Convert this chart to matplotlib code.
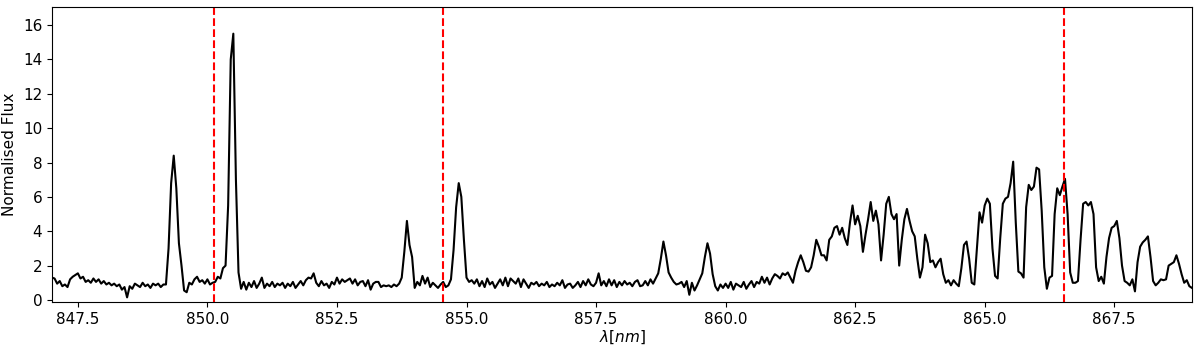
import numpy as np
import matplotlib
matplotlib.use("Agg")
import matplotlib.pyplot as plt

# wavelength grid of the spectrum (nm), 0.05 nm sampling
wl_start = 847.0
wl_step = 0.05

# normalised flux, one row per 0.5 nm
flux = [
    1.30, 1.25, 0.95, 1.10, 0.80, 0.90, 0.75, 1.20, 1.35, 1.45,   # 847.0
    1.55, 1.25, 1.35, 1.05, 1.15, 1.00, 1.25, 1.05, 1.20, 0.95,   # 847.5
    1.10, 0.90, 1.00, 0.85, 0.95, 0.80, 0.90, 0.60, 0.75, 0.15,   # 848.0
    0.80, 0.65, 0.95, 0.85, 0.75, 1.00, 0.80, 0.90, 0.70, 0.95,   # 848.5
    0.85, 0.95, 0.75, 0.90, 0.90, 3.00, 6.80, 8.40, 6.50, 3.30,   # 849.0
    2.00, 0.55, 0.45, 1.00, 0.90, 1.20, 1.35, 1.05, 1.15, 0.95,   # 849.5
    1.20, 0.90, 1.00, 1.05, 1.35, 1.25, 1.85, 2.00, 5.50, 14.0,   # 850.0
    15.5, 7.00, 1.60, 0.65, 1.05, 0.60, 1.00, 0.75, 1.10, 0.70,   # 850.5
    0.95, 1.30, 0.70, 0.95, 0.80, 1.05, 0.75, 0.95, 0.85, 1.00,   # 851.0
    0.70, 0.95, 0.80, 1.05, 0.70, 0.90, 1.10, 0.85, 1.15, 1.30,   # 851.5
    1.25, 1.55, 1.00, 0.80, 1.10, 0.85, 0.95, 0.70, 1.05, 0.90,   # 852.0
    1.30, 0.95, 1.20, 1.05, 1.15, 1.25, 0.95, 1.20, 0.85, 1.05,   # 852.5
    1.10, 0.80, 1.15, 0.60, 0.95, 1.05, 1.05, 0.75, 0.85, 0.80,   # 853.0
    0.85, 0.75, 0.90, 0.80, 0.95, 1.30, 2.80, 4.60, 3.20, 2.50,   # 853.5
    0.70, 1.05, 0.85, 1.40, 0.95, 1.30, 0.75, 1.00, 0.85, 0.70,   # 854.0
    0.90, 1.05, 0.75, 0.85, 1.20, 2.90, 5.40, 6.80, 6.00, 3.50,   # 854.5
    1.30, 1.05, 1.15, 0.95, 1.20, 0.80, 1.10, 0.75, 1.25, 0.90,   # 855.0
    1.05, 0.70, 0.95, 1.20, 0.85, 1.30, 0.80, 1.25, 1.10, 0.95,   # 855.5
    1.25, 0.75, 1.20, 0.95, 0.70, 1.00, 0.90, 1.05, 0.80, 0.95,   # 856.0
    0.85, 1.05, 0.75, 0.90, 0.80, 1.00, 0.85, 1.15, 0.70, 0.90,   # 856.5
    0.95, 0.70, 0.85, 1.05, 0.75, 1.10, 0.85, 1.20, 0.90, 0.80,   # 857.0
    1.00, 1.55, 0.85, 1.10, 0.80, 1.20, 0.85, 1.15, 0.75, 1.05,   # 857.5
    0.85, 1.10, 0.90, 1.00, 0.80, 1.05, 1.15, 0.80, 0.85, 1.10,   # 858.0
    0.85, 1.20, 0.95, 1.25, 1.55, 2.40, 3.40, 2.60, 1.60, 1.30,   # 858.5
    1.05, 0.90, 0.95, 1.05, 0.75, 1.10, 0.30, 1.00, 0.55, 0.85,   # 859.0
    1.20, 1.55, 2.50, 3.30, 2.70, 1.50, 0.80, 0.55, 0.90, 0.70,   # 859.5
    0.95, 0.70, 1.05, 0.60, 0.95, 0.85, 0.75, 1.05, 0.65, 0.90,   # 860.0
    1.10, 0.75, 1.05, 0.95, 1.35, 1.00, 1.30, 0.90, 1.25, 1.50,   # 860.5
    1.40, 1.25, 1.55, 1.45, 1.60, 1.30, 1.00, 1.70, 2.20, 2.60,   # 861.0
    2.20, 1.70, 1.65, 1.90, 2.60, 3.50, 3.10, 2.60, 2.60, 2.30,   # 861.5
    3.50, 3.70, 4.20, 4.30, 3.80, 4.20, 3.60, 3.20, 4.50, 5.50,   # 862.0
    4.40, 4.90, 4.30, 2.80, 3.80, 4.70, 5.70, 4.60, 5.20, 4.40,   # 862.5
    2.30, 3.80, 5.60, 6.00, 5.00, 4.70, 5.00, 2.00, 3.50, 4.70,   # 863.0
    5.30, 4.60, 4.00, 3.70, 2.40, 1.30, 1.90, 3.80, 3.30, 2.20,   # 863.5
    2.30, 1.90, 2.20, 2.40, 1.50, 1.00, 1.15, 0.85, 1.15, 0.95,   # 864.0
    0.80, 1.85, 3.20, 3.40, 2.40, 1.00, 0.90, 3.00, 5.10, 4.50,   # 864.5
    5.50, 5.90, 5.60, 3.00, 1.40, 1.25, 3.60, 5.60, 5.90, 6.00,   # 865.0
    6.80, 8.05, 4.50, 1.65, 1.55, 1.30, 5.40, 6.70, 6.40, 6.60,   # 865.5
    7.70, 7.60, 5.20, 1.90, 0.65, 1.30, 1.40, 5.00, 6.50, 6.10,   # 866.0
    6.60, 7.05, 5.00, 1.60, 1.00, 1.00, 1.10, 3.50, 5.60, 5.70,   # 866.5
    5.50, 5.70, 5.00, 1.90, 1.10, 1.35, 0.95, 2.50, 3.60, 4.20,   # 867.0
    4.30, 4.60, 3.60, 2.00, 1.10, 1.00, 0.85, 1.20, 0.50, 2.20,   # 867.5
    3.10, 3.35, 3.50, 3.70, 2.50, 1.10, 0.85, 1.00, 1.20, 1.15,   # 868.0
    1.20, 2.00, 2.10, 2.20, 2.60, 2.10, 1.50, 1.00, 1.15, 0.80,   # 868.5
    0.70,                                                         # 869.0
]

# Ca II triplet positions marked with dashed lines (nm)
line_positions = [850.13, 854.54, 866.53]

x_ticks = [847.5, 850.0, 852.5, 855.0, 857.5, 860.0, 862.5, 865.0, 867.5]
y_ticks = [0, 2, 4, 6, 8, 10, 12, 14, 16]

wl = wl_start + wl_step * np.arange(len(flux))

fig = plt.figure(figsize=(12, 3.45), dpi=100)
ax = fig.add_axes([0.0433, 0.1246, 0.95, 0.855])
ax.plot(wl, flux, color="black", lw=1.5)
for p in line_positions:
    ax.axvline(p, color="red", ls="--", lw=1.5)

ax.set_xlim(847.0, 869.0)
ax.set_ylim(-0.12, 17.05)
ax.set_xticks(x_ticks)
ax.set_xticklabels([f"{t:.1f}" for t in x_ticks])
ax.set_yticks(y_ticks)
ax.tick_params(labelsize=11)
ax.set_xlabel(r"$\lambda[nm]$", fontsize=11, labelpad=1)
ax.set_ylabel("Normalised Flux", fontsize=11)

fig.savefig("out.png", dpi=100)
